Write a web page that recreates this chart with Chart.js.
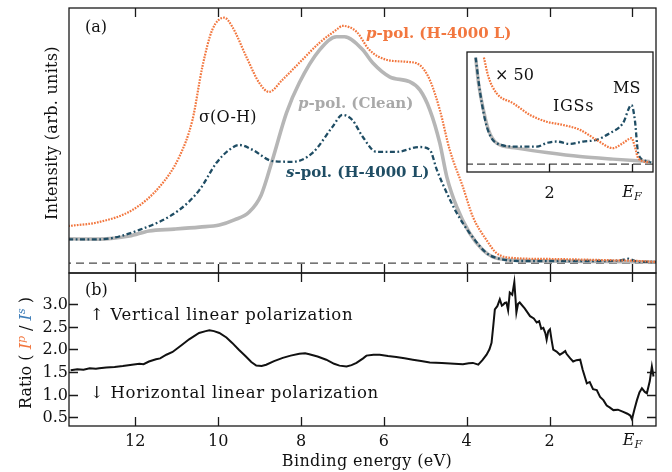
<!DOCTYPE html>
<html>
<head>
<meta charset="utf-8">
<script src="https://cdn.jsdelivr.net/npm/chart.js@4.4.1/dist/chart.umd.min.js"></script>
<style>
  body { margin: 0; background: #fff; width: 672px; height: 472px; overflow: hidden; position: relative; font-family: "DejaVu Serif", serif; color: #111; }
  .box { position: absolute; }
  .t { position: absolute; white-space: nowrap; font-size: 16px; line-height: 1; transform: translateY(-50%); }
  .c { transform: translate(-50%, -50%); }
  .r { transform: translate(-100%, -50%); }
  .rot { transform: translate(-50%, -50%) rotate(-90deg); }
  .b { font-weight: bold; font-size: 15px; }
  .w { letter-spacing: 0.7px; }
  sub { font-size: 11px; vertical-align: -3px; font-style: italic; }
  sup { font-size: 11px; vertical-align: 6px; }
</style>
</head>
<body>
<div class="box" style="left:0;top:0"><canvas id="ca" width="672" height="280"></canvas></div>
<div class="box" style="left:0;top:266px"><canvas id="cb" width="672" height="166"></canvas></div>
<div class="box" style="left:460px;top:45px"><canvas id="cc" width="200" height="135"></canvas></div>
<div id="labels"></div>

<script>
// ---- panel (a): photoemission spectra, binding energy (eV) vs intensity ----
const cleanE = [13.6, 12.87, 12.14, 11.67, 11.06, 10.45, 9.97, 9.61, 9.25, 8.96, 8.69, 8.35, 8.04, 7.55, 7.14, 6.95, 6.51, 6.27, 5.86, 5.38, 5.13, 4.89, 4.65, 4.48, 4.24, 3.93, 3.61, 3.37, 2.96, 1.99, 0.78, -0.57];
const cleanI = [0.095, 0.094, 0.106, 0.126, 0.133, 0.141, 0.149, 0.169, 0.2, 0.267, 0.404, 0.589, 0.707, 0.836, 0.887, 0.887, 0.836, 0.785, 0.73, 0.711, 0.679, 0.601, 0.471, 0.338, 0.22, 0.118, 0.051, 0.024, 0.012, 0.008, 0.006, 0.004];

const pPolE = [13.62, 12.87, 12.07, 11.42, 10.94, 10.62, 10.38, 10.14, 9.85, 9.66, 9.32, 9.01, 8.77, 8.45, 8.04, 7.55, 7.14, 7.0, 6.66, 6.35, 5.94, 5.45, 5.14, 4.89, 4.65, 4.41, 4.09, 3.85, 3.52, 3.28, 2.89, 1.99, 0.78, -0.19, -0.57];
const pPolI = [0.145, 0.161, 0.208, 0.298, 0.416, 0.561, 0.77, 0.915, 0.962, 0.927, 0.809, 0.707, 0.671, 0.718, 0.785, 0.864, 0.915, 0.93, 0.907, 0.836, 0.797, 0.789, 0.777, 0.718, 0.601, 0.444, 0.298, 0.181, 0.09, 0.039, 0.02, 0.016, 0.012, 0.008, 0.004];

const sPolE = [13.62, 12.87, 11.9, 10.94, 10.45, 10.04, 9.73, 9.49, 9.17, 8.69, 8.2, 7.72, 7.24, 7.0, 6.76, 6.51, 6.18, 5.69, 5.14, 4.89, 4.72, 4.48, 4.24, 3.93, 3.52, 3.28, 2.72, 1.75, 0.78, 0.3, 0.1, -0.1, -0.57];
const sPolI = [0.093, 0.093, 0.13, 0.208, 0.287, 0.393, 0.444, 0.463, 0.444, 0.4, 0.397, 0.432, 0.534, 0.581, 0.561, 0.495, 0.436, 0.436, 0.455, 0.444, 0.365, 0.275, 0.196, 0.118, 0.039, 0.02, 0.008, 0.008, 0.008, 0.01, 0.017, 0.006, 0.004];

// ---- inset: x50 magnification near E_F ----
const insetCleanE = [3.79, 3.72, 3.6, 3.48, 3.28, 2.8, 2.07, 1.26, 0.46, -0.43];
const insetCleanI = [0.95, 0.719, 0.482, 0.305, 0.186, 0.142, 0.103, 0.067, 0.044, 0.023];
const insetSE = [3.79, 3.68, 3.52, 3.28, 2.8, 2.31, 2.05, 1.83, 1.51, 1.19, 0.86, 0.54, 0.22, 0.01, -0.07, -0.15, -0.27, -0.47];
const insetSI = [0.95, 0.633, 0.334, 0.186, 0.156, 0.156, 0.19, 0.201, 0.18, 0.201, 0.216, 0.275, 0.364, 0.527, 0.393, 0.098, 0.038, 0.014];
const insetPE = [3.59, 3.48, 3.28, 2.88, 2.47, 2.07, 1.67, 1.26, 0.86, 0.46, 0.22, 0.01, -0.07, -0.15, -0.43];
const insetPI = [0.95, 0.778, 0.631, 0.542, 0.438, 0.378, 0.349, 0.305, 0.216, 0.142, 0.187, 0.231, 0.156, 0.053, 0.014];

// ---- panel (b): ratio I^p / I^s ----
const ratioE = [13.56, 13.4, 13.25, 13.1, 12.95, 12.87, 12.7, 12.5, 12.3, 12.08, 11.9, 11.8, 11.67, 11.5, 11.4, 11.25, 11.1, 10.87, 10.7, 10.46, 10.3, 10.21, 10.1, 9.97, 9.8, 9.66, 9.5, 9.33, 9.2, 9.08, 8.95, 8.84, 8.65, 8.44, 8.25, 8.04, 7.9, 7.8, 7.6, 7.39, 7.2, 7.07, 6.9, 6.78, 6.66, 6.5, 6.42, 6.25, 6.1, 5.9, 5.7, 5.5, 5.3, 5.1, 4.89, 4.6, 4.3, 4.09, 3.95, 3.85, 3.72, 3.62, 3.52, 3.45, 3.4, 3.36, 3.32, 3.26, 3.2, 3.15, 3.12, 3.08, 3.04, 3.0, 2.96, 2.9, 2.85, 2.82, 2.8, 2.76, 2.72, 2.6, 2.47, 2.38, 2.31, 2.25, 2.2, 2.15, 2.1, 2.07, 2.03, 1.99, 1.95, 1.91, 1.83, 1.75, 1.68, 1.62, 1.59, 1.5, 1.43, 1.35, 1.26, 1.2, 1.1, 1.03, 0.95, 0.86, 0.78, 0.7, 0.62, 0.55, 0.46, 0.35, 0.22, 0.12, 0.05, 0.01, -0.05, -0.11, -0.17, -0.23, -0.3, -0.35, -0.42, -0.47, -0.51];
const ratioV = [1.54, 1.56, 1.55, 1.58, 1.57, 1.58, 1.6, 1.61, 1.63, 1.66, 1.68, 1.67, 1.73, 1.78, 1.8, 1.88, 1.94, 2.1, 2.22, 2.36, 2.4, 2.42, 2.4, 2.36, 2.26, 2.14, 1.99, 1.84, 1.72, 1.64, 1.63, 1.66, 1.74, 1.81, 1.86, 1.9, 1.91, 1.89, 1.84, 1.77, 1.68, 1.64, 1.62, 1.65, 1.7, 1.8, 1.86, 1.88, 1.88, 1.85, 1.83, 1.8, 1.77, 1.74, 1.71, 1.7, 1.68, 1.67, 1.69, 1.7, 1.66, 1.76, 1.88, 2.0, 2.14, 2.5, 2.88, 2.95, 3.1, 2.96, 2.98, 3.02, 3.03, 2.86, 3.25, 3.2, 3.48, 3.1, 2.81, 3.0, 3.03, 2.9, 2.73, 2.68, 2.59, 2.62, 2.45, 2.47, 2.35, 2.21, 2.4, 2.44, 2.2, 1.99, 1.95, 1.88, 1.92, 1.96, 1.9, 1.8, 1.73, 1.76, 1.77, 1.55, 1.25, 1.28, 1.12, 1.1, 0.95, 0.88, 0.76, 0.72, 0.66, 0.67, 0.62, 0.58, 0.54, 0.46, 0.68, 0.88, 1.05, 1.14, 1.06, 1.03, 1.3, 1.62, 1.4];

// axis ranges and ticks
const xRange = [-0.57, 13.6];
const insetXRange = [-0.51, 4.0];
const xTicks = [12, 10, 8, 6, 4, 2, 0];
const insetXTicks = [2, 0];
const ratioTicks = [0.5, 1.0, 1.5, 2.0, 2.5, 3.0];

const orange = '#f2773f';
const teal = '#1f4d64';
const grey = '#b6b6b6';
const blue = '#3d7db8';

const pts = (xs, ys) => xs.map((x, i) => ({ x: x, y: ys[i] }));

// border + inward tick marks, using the chart scales
const framePlugin = {
  id: 'frame',
  beforeDatasetsDraw(chart, args, o) {
    if (!o.fill) return;
    const a = chart.chartArea, ctx = chart.ctx;
    ctx.save();
    ctx.fillStyle = '#fff';
    ctx.fillRect(a.left, a.top, a.right - a.left, a.bottom - a.top);
    ctx.restore();
  },
  afterDatasetsDraw(chart, args, o) {
    const a = chart.chartArea, ctx = chart.ctx;
    const sx = chart.scales.x, sy = chart.scales.y;
    const len = o.len || 9;
    ctx.save();
    ctx.strokeStyle = '#1a1a1a';
    ctx.lineWidth = 1.3;
    ctx.strokeRect(a.left, a.top, a.right - a.left, a.bottom - a.top);
    ctx.beginPath();
    (o.xTicks || []).forEach(v => {
      const px = Math.round(sx.getPixelForValue(v)) + 0.5;
      if (o.top) { ctx.moveTo(px, a.top); ctx.lineTo(px, a.top + len); }
      if (o.bottom) { ctx.moveTo(px, a.bottom); ctx.lineTo(px, a.bottom - len); }
    });
    (o.yTicks || []).forEach(v => {
      const py = Math.round(sy.getPixelForValue(v)) + 0.5;
      ctx.moveTo(a.left, py); ctx.lineTo(a.left + len, py);
      ctx.moveTo(a.right, py); ctx.lineTo(a.right - len, py);
    });
    ctx.stroke();
    ctx.restore();
  }
};

function baseOpts(xr, yr, pad, frame) {
  return {
    responsive: false,
    animation: false,
    layout: { padding: pad },
    elements: { point: { radius: 0 }, line: { borderCapStyle: 'butt' } },
    plugins: { legend: { display: false }, tooltip: { enabled: false }, frame: frame },
    scales: {
      x: { type: 'linear', reverse: true, min: xr[0], max: xr[1], display: false },
      y: { type: 'linear', min: yr[0], max: yr[1], display: false }
    }
  };
}

const lineDs = (data, color, width, dash, order, mode) => ({
  data: data, borderColor: color, borderWidth: width, borderDash: dash,
  fill: false, order: order, cubicInterpolationMode: mode || 'monotone'
});

// panel (a)
const chartA = new Chart(document.getElementById('ca'), {
  type: 'line',
  data: { datasets: [
    lineDs(pts(xRange, [0, 0]), '#4a4a4a', 1.3, [8, 5], 4, 'default'),
    lineDs(pts(cleanE, cleanI), grey, 3.6, [], 3),
    lineDs(pts(sPolE, sPolI), teal, 2.3, [5, 2.5, 1.8, 2.5], 2),
    lineDs(pts(pPolE, pPolI), orange, 2.2, [1.7, 1.2], 1)
  ] },
  options: baseOpts(xRange, [-0.039, 1], { left: 69, right: 16, top: 8, bottom: 7 },
    { xTicks: xTicks, top: true, bottom: true, len: 9 }),
  plugins: [framePlugin]
});

// inset
const chartC = new Chart(document.getElementById('cc'), {
  type: 'line',
  data: { datasets: [
    lineDs(pts(insetXRange, [0, 0]), '#444', 1.3, [8, 4], 4, 'default'),
    lineDs(pts(insetCleanE, insetCleanI), grey, 3.4, [], 3),
    lineDs(pts(insetSE, insetSI), teal, 2.3, [5, 2.5, 1.8, 2.5], 2),
    lineDs(pts(insetPE, insetPI), orange, 2.2, [1.7, 1.2], 1)
  ] },
  options: baseOpts(insetXRange, [-0.071, 1], { left: 7, right: 7, top: 7, bottom: 8 },
    { xTicks: insetXTicks, bottom: true, fill: true, len: 8 }),
  plugins: [framePlugin]
});

// panel (b), top border shared with panel (a)
const chartB = new Chart(document.getElementById('cb'), {
  type: 'line',
  data: { datasets: [
    lineDs(pts(ratioE, ratioV), '#111', 2, [], 1, 'default')
  ] },
  options: baseOpts(xRange, [0.31, 3.68], { left: 69, right: 16, top: 7, bottom: 6 },
    { xTicks: xTicks, yTicks: ratioTicks, top: true, bottom: true, len: 9 }),
  plugins: [framePlugin]
});

// tick labels placed from the chart scales
const holder = document.getElementById('labels');
function addLabel(html, x, y, cls, style) {
  const d = document.createElement('div');
  d.className = 't ' + (cls || '');
  d.style.left = x + 'px';
  d.style.top = y + 'px';
  if (style) d.style.cssText += style;
  d.innerHTML = html;
  holder.appendChild(d);
}
const efHtml = '<i>E</i><sub>F</sub>';
function tickText(v) { return v === 0 ? efHtml : String(v); }

const bTop = 266, bArea = chartB.chartArea;
xTicks.forEach(v => addLabel(tickText(v), chartB.scales.x.getPixelForValue(v), bTop + bArea.bottom + 15, 'c'));
ratioTicks.forEach(v => addLabel(v.toFixed(1), 68, bTop + chartB.scales.y.getPixelForValue(v), 'r'));
const cArea = chartC.chartArea;
insetXTicks.forEach(v => addLabel(tickText(v), 460 + chartC.scales.x.getPixelForValue(v), 45 + cArea.bottom + 21, 'c'));

// annotations
addLabel('(a)', 85, 27);
addLabel('(b)', 85, 290);
addLabel('<i>p</i>-pol. (H-4000 L)', 366, 33, 'b', 'color:' + orange);
addLabel('σ(O-H)', 199, 117, 'w', 'letter-spacing:0.2px');
addLabel('<i>p</i>-pol. (Clean)', 298, 103, 'b', 'color:#a9a9a9');
addLabel('<i>s</i>-pol. (H-4000 L)', 286, 172, 'b', 'color:' + teal);
addLabel('× 50', 495, 75);
addLabel('IGSs', 553, 106, 'w');
addLabel('MS', 613, 88);
addLabel('↑ Vertical linear polarization', 90, 315, 'w', 'font-size:16.5px');
addLabel('↓ Horizontal linear polarization', 90, 393, 'w', 'font-size:16.5px');
addLabel('Intensity (arb. units)', 52, 133, 'rot w', 'font-size:16px;letter-spacing:0.3px');
addLabel('Ratio ( <i style="color:' + orange + '">I</i><sup style="color:' + orange + '"><i>p</i></sup> / <i style="color:' + blue + '">I</i><sup style="color:' + blue + '"><i>s</i></sup> )', 25, 353, 'rot', 'font-size:16px');
addLabel('Binding energy (eV)', 367, 461, 'c', 'letter-spacing:0.4px');
</script>
</body>
</html>
